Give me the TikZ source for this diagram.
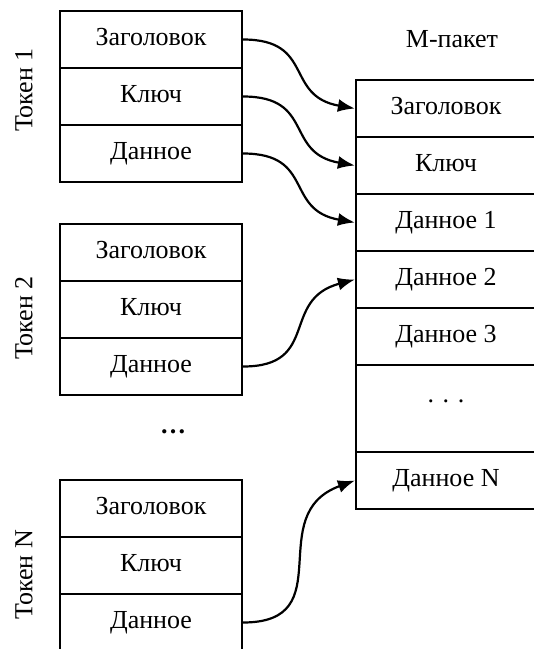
\documentclass[tikz,border=0pt]{standalone}
\usepackage{fontspec}
\setmainfont{Liberation Serif}
\usetikzlibrary{arrows.meta}
\begin{document}
\begin{tikzpicture}[x=1pt,y=-1pt,
  every node/.style={font=\fontsize{26}{30}\selectfont},
  lrow/.style={draw,line width=2.2pt,minimum width=182pt,minimum height=57pt,inner sep=0pt,text height=17pt,text depth=5pt},
  rrow/.style={draw,line width=2.2pt,minimum width=180pt,minimum height=57pt,inner sep=0pt,text height=17pt,text depth=5pt},
  link/.style={line width=2.2pt,looseness=1.4,-{Latex[length=17pt,width=13pt]}}]
\useasboundingbox (0,0) rectangle (534,649);
% Token 1
\node[lrow] (a1) at (151,39.5) {Заголовок};
\node[lrow] (a2) at (151,96.5) {Ключ};
\node[lrow] (a3) at (151,153.5) {Данное};
% Token 2
\node[lrow] (b1) at (151,252.5) {Заголовок};
\node[lrow] (b2) at (151,309.5) {Ключ};
\node[lrow] (b3) at (151,366.5) {Данное};
% Token N
\node[lrow] (c1) at (151,508.5) {Заголовок};
\node[lrow] (c2) at (151,565.5) {Ключ};
\node[lrow] (c3) at (151,622.5) {Данное};
% labels
\node[rotate=90] (l1) at (24,90) {Токен 1};
\node[rotate=90] (l2) at (24,318) {Токен 2};
\node[rotate=90] (l3) at (24,575) {Токен N};
\node (ld) at (173,432) {\bfseries …};
% M-packet
\node[anchor=base] (mt) at (452,47) {М-пакет};
\node[rrow] (p1) at (446,108.5) {Заголовок};
\node[rrow] (p2) at (446,165.5) {Ключ};
\node[rrow] (p3) at (446,222.5) {Данное 1};
\node[rrow] (p4) at (446,279.5) {Данное 2};
\node[rrow] (p5) at (446,336.5) {Данное 3};
\node[rrow,minimum height=87pt] (p6) at (446,408.5) {};
\node[anchor=base] (pd) at (446,402) {. . .};
\node[rrow] (p7) at (446,480.5) {Данное N};
% links
\draw[link] (a1.east) to[out=0,in=170] (p1.west);
\draw[link] (a2.east) to[out=0,in=170] (p2.west);
\draw[link] (a3.east) to[out=0,in=170] (p3.west);
\draw[link] (b3.east) to[out=0,in=195] (p4.west);
\draw[link] (c3.east) to[out=0,in=200] (p7.west);
\end{tikzpicture}
\end{document}
